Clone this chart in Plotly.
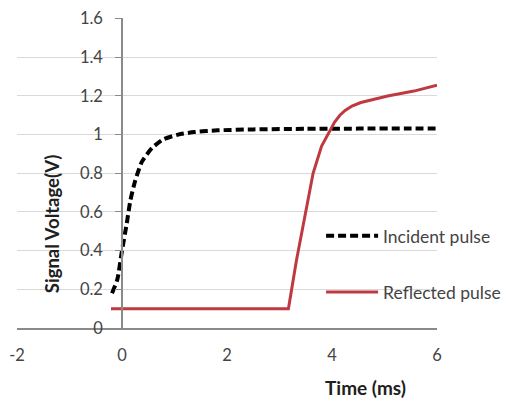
import plotly.graph_objects as go

# Incident pulse (black dashed)
inc_x = [-0.19, -0.09, 0.0, 0.09, 0.16, 0.25, 0.38, 0.57, 0.79, 1.07, 1.38, 1.82, 2.5, 3.5, 4.5, 5.5, 6.0]
inc_y = [0.18, 0.25, 0.40, 0.54, 0.66, 0.76, 0.86, 0.93, 0.976, 1.0, 1.013, 1.022, 1.027, 1.03, 1.031, 1.032, 1.032]

# Reflected pulse (red solid)
ref_x = [-0.21, 1.0, 2.0, 3.0, 3.17, 3.32, 3.48, 3.64, 3.80, 3.95, 4.05, 4.15, 4.25, 4.38, 4.55, 5.06, 5.56, 6.0]
ref_y = [0.10, 0.10, 0.10, 0.10, 0.10, 0.345, 0.58, 0.80, 0.94, 1.02, 1.065, 1.10, 1.125, 1.148, 1.166, 1.20, 1.225, 1.255]

x_ticks = [-2, 0, 2, 4, 6]
y_ticks = [0, 0.2, 0.4, 0.6, 0.8, 1, 1.2, 1.4, 1.6]
y_labels = ["0", "0.2", "0.4", "0.6", "0.8", "1", "1.2", "1.4", "1.6"]

FONT = "Lato"
TXT = "#444444"

fig = go.Figure()
fig.add_trace(go.Scatter(
    x=inc_x, y=inc_y, mode="lines", name="Incident pulse",
    line=dict(color="black", width=4, dash="8px,4px", shape="spline", smoothing=0.6),
    legend="legend", showlegend=True,
))
fig.add_trace(go.Scatter(
    x=ref_x, y=ref_y, mode="lines", name="Reflected pulse",
    line=dict(color="#be3a40", width=3),
    legend="legend2", showlegend=True,
))

fig.update_layout(
    width=501, height=394,
    margin=dict(l=9, r=72, t=10, b=74, autoexpand=False),
    paper_bgcolor="white", plot_bgcolor="white",
    showlegend=True,
    font=dict(family=FONT, size=16, color=TXT),
    xaxis=dict(
        range=[-2, 6], tickvals=x_ticks, ticktext=[str(v) for v in x_ticks],
        showgrid=False, zeroline=False, showline=True, linecolor="#8a8a8a", linewidth=1.5,
        ticks="", ticklabelstandoff=11, tickfont=dict(size=16.5, color=TXT),
        ticklabeloverflow="allow", automargin=False,
    ),
    yaxis=dict(
        range=[0, 1.603], tickvals=y_ticks, ticktext=y_labels,
        showgrid=True, gridcolor="#d9d9d9", gridwidth=1,
        zeroline=False, showline=True, linecolor="#8a8a8a", linewidth=1.5,
        anchor="free", position=0.25,
        ticks="outside", ticklen=6, tickcolor="#8a8a8a",
        ticklabelstandoff=9, tickfont=dict(size=16.5, color=TXT),
        ticklabeloverflow="allow", automargin=False,
    ),
    legend=dict(
        x=0.724, y=0.297, xanchor="left", yanchor="middle",
        bgcolor="rgba(0,0,0,0)", itemwidth=52,
        font=dict(size=17.5, color=TXT, family=FONT),
    ),
    legend2=dict(
        x=0.724, y=0.116, xanchor="left", yanchor="middle",
        bgcolor="rgba(0,0,0,0)", itemwidth=52,
        font=dict(size=17.5, color=TXT, family=FONT),
    ),
    annotations=[
        dict(text="<b>Signal Voltage(V)</b>", xref="paper", yref="paper",
             x=0.0834, y=0.335, xanchor="center", yanchor="middle",
             textangle=-90, showarrow=False,
             font=dict(size=18.5, color="#202020", family=FONT)),
        dict(text="<b>Time (ms)</b>", xref="paper", yref="paper",
             x=0.829, y=-0.193, xanchor="center", yanchor="middle",
             showarrow=False,
             font=dict(size=19, color="#202020", family=FONT)),
    ],
)

fig.write_html("out.html")
